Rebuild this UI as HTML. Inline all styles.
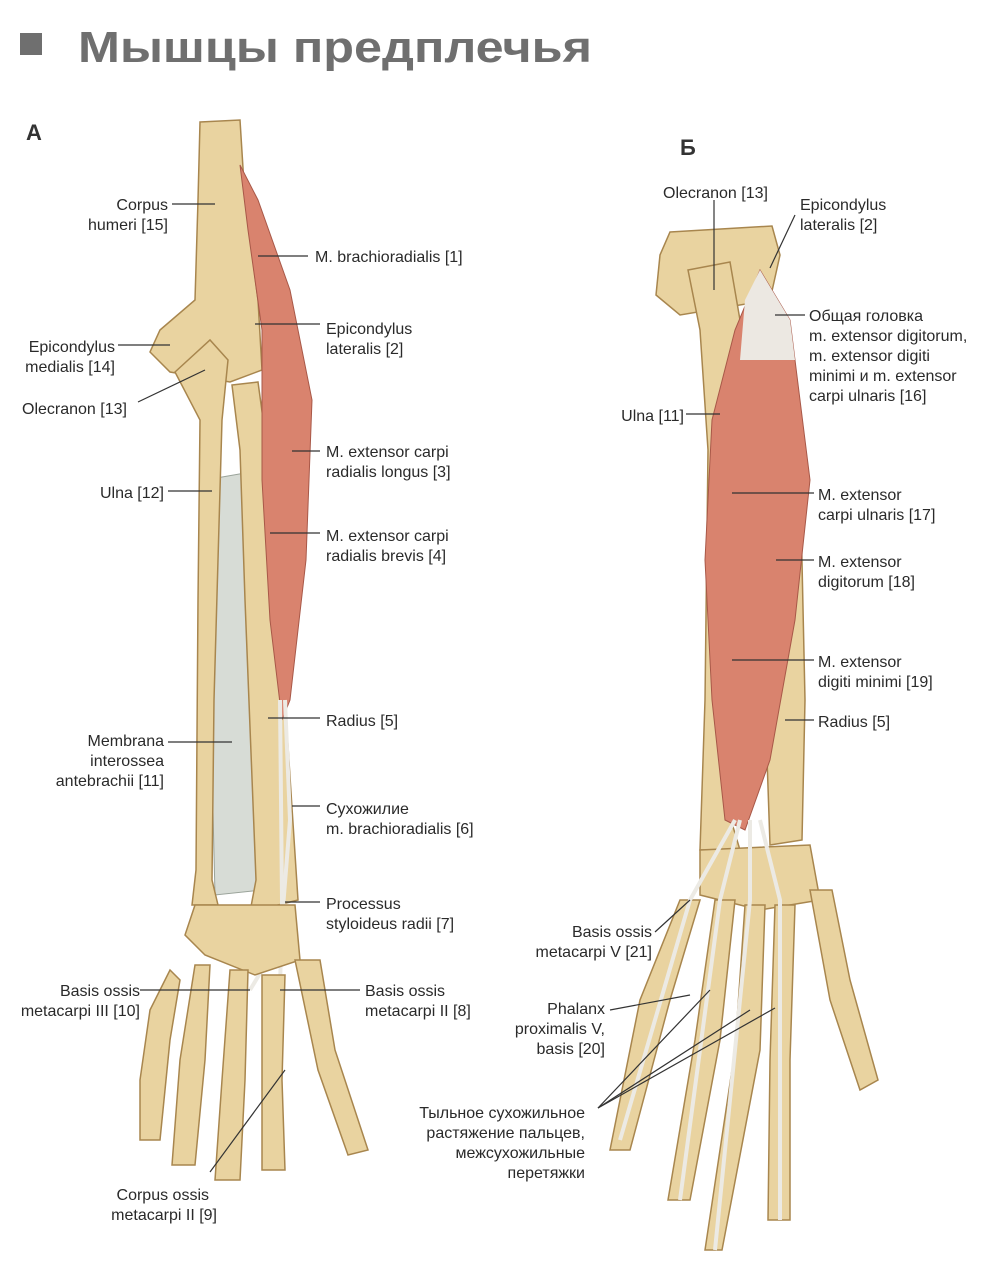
<!DOCTYPE html>
<html><head><meta charset="utf-8"><style>
html,body{margin:0;padding:0;background:#fff;}
svg{display:block}
text{font-family:"Liberation Sans","Noto Sans CJK SC",sans-serif;font-size:16px;fill:#2a2a2a;}
.l{stroke:#333;stroke-width:1.2;fill:none}
.bone{fill:#e9d3a0;stroke:#a8864e;stroke-width:1.5}
.mus{fill:#d9836e;stroke:#a85848;stroke-width:1}
.ten{fill:none;stroke:#eceae4;stroke-width:4}
</style></head><body>
<svg width="990" height="1262" viewBox="0 0 990 1262">
<rect x="20" y="33" width="22" height="22" fill="#6f6f6f"/>
<text x="78" y="62" textLength="514" lengthAdjust="spacingAndGlyphs" style="font-size:44px;font-weight:bold;fill:#6f6f6f">Мышцы предплечья</text>
<text x="26" y="140" style="font-size:22px;font-weight:bold;fill:#333">А</text>
<text x="680" y="155" style="font-size:22px;font-weight:bold;fill:#333">Б</text>

<!-- Figure A -->
<path class="bone" d="M200 122 L240 120 L245 200 L258 300 L262 370 L230 382 L170 372 L150 352 L160 330 L195 300 L198 200 Z"/>
<path d="M205 480 L262 470 L262 890 L215 895 Z" fill="#d7dcd6" stroke="#9aa39a"/>
<path class="bone" d="M175 372 L210 340 L228 360 L222 420 L214 700 L212 880 L218 905 L192 905 L196 870 L198 600 L200 420 Z"/>
<path class="bone" d="M232 385 L258 382 L270 470 L285 700 L298 900 L250 912 L256 880 L245 600 L240 450 Z"/>
<path class="mus" d="M240 165 L258 200 L290 290 L312 400 L306 560 L290 700 L282 720 L270 620 L262 480 L262 330 L248 230 Z"/>
<path class="ten" d="M285 700 L290 820 L282 920 L268 960 L250 990"/>
<path class="ten" d="M280 700 L282 900 L280 990"/>
<path class="bone" d="M195 905 L295 905 L300 960 L255 975 L205 955 L185 935 Z"/>
<g class="bone">
<path d="M150 1010 L170 970 L180 980 L170 1040 L160 1140 L140 1140 L140 1080 Z"/>
<path d="M195 965 L210 965 L205 1060 L195 1165 L172 1165 L180 1060 Z"/>
<path d="M230 970 L248 970 L245 1080 L240 1180 L215 1180 L222 1080 Z"/>
<path d="M262 975 L285 975 L282 1080 L285 1170 L262 1170 L262 1080 Z"/>
<path d="M295 960 L320 960 L335 1050 L368 1150 L348 1155 L318 1070 Z"/>
</g>
<g class="l">
<line x1="172" y1="204" x2="215" y2="204"/>
<line x1="258" y1="256" x2="308" y2="256"/>
<line x1="255" y1="324" x2="320" y2="324"/>
<line x1="118" y1="345" x2="170" y2="345"/>
<line x1="138" y1="402" x2="205" y2="370"/>
<line x1="168" y1="491" x2="212" y2="491"/>
<line x1="292" y1="451" x2="320" y2="451"/>
<line x1="270" y1="533" x2="320" y2="533"/>
<line x1="268" y1="718" x2="320" y2="718"/>
<line x1="168" y1="742" x2="232" y2="742"/>
<line x1="292" y1="806" x2="320" y2="806"/>
<line x1="285" y1="902" x2="320" y2="902"/>
<line x1="140" y1="990" x2="250" y2="990"/>
<line x1="280" y1="990" x2="360" y2="990"/>
<line x1="210" y1="1172" x2="285" y2="1070"/>
</g>
<text x="168" y="210" text-anchor="end">Corpus</text><text x="168" y="230" text-anchor="end">humeri [15]</text>
<text x="315" y="262">M. brachioradialis [1]</text>
<text x="326" y="334">Epicondylus</text><text x="326" y="354">lateralis [2]</text>
<text x="115" y="352" text-anchor="end">Epicondylus</text><text x="115" y="372" text-anchor="end">medialis [14]</text>
<text x="22" y="414">Olecranon [13]</text>
<text x="164" y="498" text-anchor="end">Ulna [12]</text>
<text x="326" y="457">M. extensor carpi</text><text x="326" y="477">radialis longus [3]</text>
<text x="326" y="541">M. extensor carpi</text><text x="326" y="561">radialis brevis [4]</text>
<text x="326" y="726">Radius [5]</text>
<text x="164" y="746" text-anchor="end">Membrana</text><text x="164" y="766" text-anchor="end">interossea</text><text x="164" y="786" text-anchor="end">antebrachii [11]</text>
<text x="326" y="814">Сухожилие</text><text x="326" y="834">m. brachioradialis [6]</text>
<text x="326" y="909">Processus</text><text x="326" y="929">styloideus radii [7]</text>
<text x="140" y="996" text-anchor="end">Basis ossis</text><text x="140" y="1016" text-anchor="end">metacarpi III [10]</text>
<text x="365" y="996">Basis ossis</text><text x="365" y="1016">metacarpi II [8]</text>
<text x="209" y="1200" text-anchor="end">Corpus ossis</text><text x="217" y="1220" text-anchor="end">metacarpi II [9]</text>

<!-- Figure B -->
<path class="bone" d="M670 232 L772 226 L780 255 L770 300 L680 315 L656 295 L660 255 Z"/>
<path class="bone" d="M688 270 L730 262 L740 320 L735 600 L725 800 L740 850 L700 850 L705 700 L708 450 L700 330 Z"/>
<path class="bone" d="M772 470 L800 470 L805 700 L802 840 L770 845 L765 700 Z"/>
<path class="mus" d="M760 270 L790 320 L810 480 L795 620 L770 760 L745 830 L725 820 L712 700 L705 560 L712 420 L735 330 Z"/>
<path d="M760 270 L790 320 L795 360 L740 360 L745 300 Z" fill="#ece8e2"/>
<path class="bone" d="M700 850 L810 845 L820 900 L760 910 L700 895 Z"/>
<g class="bone">
<path d="M680 900 L700 900 L670 1000 L630 1150 L610 1150 L640 1000 Z"/>
<path d="M715 900 L735 900 L720 1040 L690 1200 L668 1200 L695 1040 Z"/>
<path d="M745 905 L765 905 L760 1050 L722 1250 L705 1250 L735 1050 Z"/>
<path d="M775 905 L795 905 L790 1060 L790 1220 L768 1220 L770 1060 Z"/>
<path d="M810 890 L832 890 L850 980 L878 1080 L860 1090 L830 1000 Z"/>
</g>
<g class="ten"><path d="M735 820 L690 900 L620 1140"/><path d="M740 820 L720 900 L680 1200"/><path d="M750 820 L750 900 L715 1250"/><path d="M760 820 L780 900 L780 1220"/></g>
<g class="l">
<line x1="714" y1="200" x2="714" y2="290"/>
<line x1="795" y1="215" x2="770" y2="268"/>
<line x1="775" y1="315" x2="805" y2="315"/>
<line x1="686" y1="414" x2="720" y2="414"/>
<line x1="732" y1="493" x2="814" y2="493"/>
<line x1="776" y1="560" x2="814" y2="560"/>
<line x1="732" y1="660" x2="814" y2="660"/>
<line x1="785" y1="720" x2="814" y2="720"/>
<line x1="655" y1="932" x2="690" y2="900"/>
<line x1="610" y1="1010" x2="690" y2="995"/>
<line x1="598" y1="1108" x2="710" y2="990"/>
<line x1="598" y1="1108" x2="750" y2="1010"/>
<line x1="598" y1="1108" x2="775" y2="1008"/>
</g>
<text x="663" y="198">Olecranon [13]</text>
<text x="800" y="210">Epicondylus</text><text x="800" y="230">lateralis [2]</text>
<text x="809" y="321">Общая головка</text><text x="809" y="341">m. extensor digitorum,</text><text x="809" y="361">m. extensor digiti</text><text x="809" y="381">minimi и m. extensor</text><text x="809" y="401">carpi ulnaris [16]</text>
<text x="684" y="421" text-anchor="end">Ulna [11]</text>
<text x="818" y="500">M. extensor</text><text x="818" y="520">carpi ulnaris [17]</text>
<text x="818" y="567">M. extensor</text><text x="818" y="587">digitorum [18]</text>
<text x="818" y="667">M. extensor</text><text x="818" y="687">digiti minimi [19]</text>
<text x="818" y="727">Radius [5]</text>
<text x="652" y="937" text-anchor="end">Basis ossis</text><text x="652" y="957" text-anchor="end">metacarpi V [21]</text>
<text x="605" y="1014" text-anchor="end">Phalanx</text><text x="605" y="1034" text-anchor="end">proximalis V,</text><text x="605" y="1054" text-anchor="end">basis [20]</text>
<text x="585" y="1118" text-anchor="end">Тыльное сухожильное</text><text x="585" y="1138" text-anchor="end">растяжение пальцев,</text><text x="585" y="1158" text-anchor="end">межсухожильные</text><text x="585" y="1178" text-anchor="end">перетяжки</text>
</svg>
</body></html>
